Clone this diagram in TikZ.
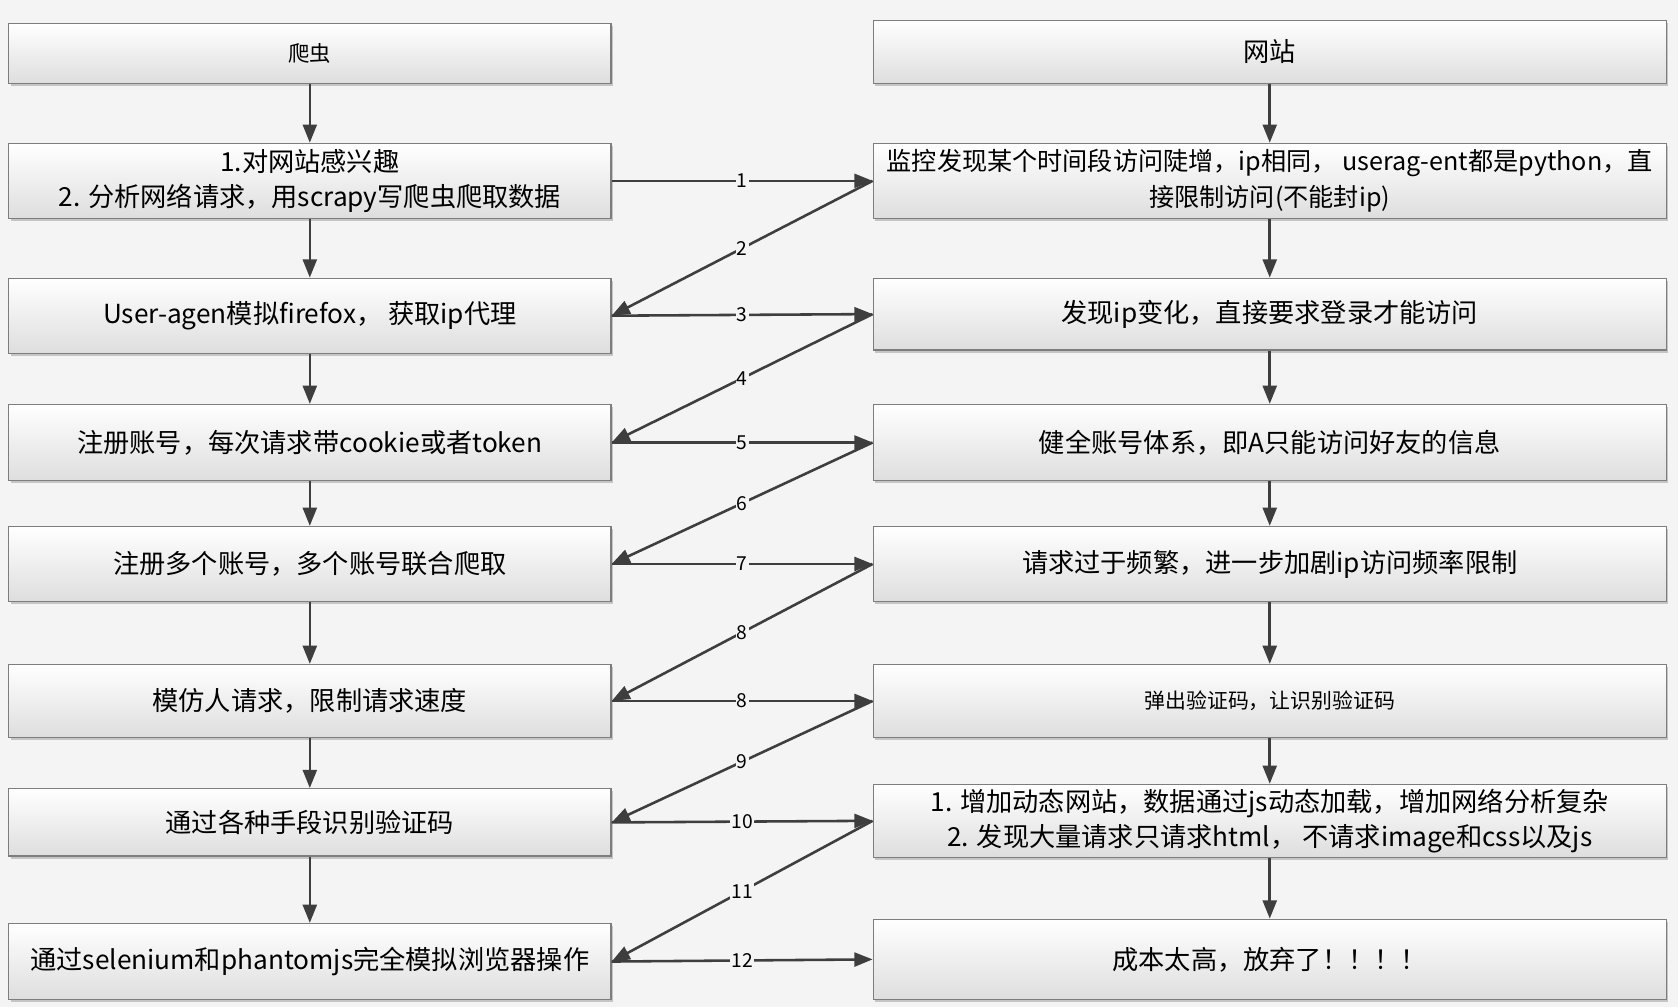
\documentclass[tikz,border=0pt]{standalone}
\usepackage{fontspec}
\setmainfont{Noto Sans CJK SC}
\usetikzlibrary{arrows.meta,shadows}
\definecolor{bgcol}{RGB}{244,244,244}
\definecolor{boxline}{RGB}{125,125,125}
\definecolor{arrowcol}{RGB}{62,62,62}
\tikzset{Lbox/.style={shape=rectangle,draw=boxline,line width=1.2pt,top color=white,bottom color=black!13,
  minimum width=563pt,inner sep=0pt,align=center,font=\fontsize{24.5}{33}\selectfont,
  drop shadow={shadow xshift=2pt,shadow yshift=-2.5pt,fill=black!35,opacity=.6}}}
\tikzset{Rbox/.style={Lbox,minimum width=741pt}}
\tikzset{flow/.style={-{Triangle[length=17pt,width=13pt]},draw=arrowcol,line width=2.4pt}}
\tikzset{num/.style={fill=bgcol,inner sep=1pt,font=\fontsize{18}{18}\selectfont}}
\begin{document}
\begin{tikzpicture}[x=1pt,y=-1pt]
\fill[bgcol] (0,0) rectangle (1568,941);
\useasboundingbox (0,0) rectangle (1568,941);

% crawler side
\node[Lbox,minimum height=56pt,font=\fontsize{20}{24}\selectfont] (L0) at (289.5,50) {爬虫};
\node[Lbox,minimum height=70pt] (L1) at (289.5,169) {1.对网站感兴趣\\2. 分析网络请求，用scrapy写爬虫爬取数据};
\node[Lbox,minimum height=70pt] (L2) at (289.5,295) {User-agen模拟firefox， 获取ip代理};
\node[Lbox,minimum height=71pt] (L3) at (289.5,413.5) {注册账号，每次请求带cookie或者token};
\node[Lbox,minimum height=70pt] (L4) at (289.5,527) {注册多个账号，多个账号联合爬取};
\node[Lbox,minimum height=68pt] (L5) at (289.5,655) {模仿人请求，限制请求速度};
\node[Lbox,minimum height=63pt] (L6) at (289.5,768.5) {通过各种手段识别验证码};
\node[Lbox,minimum height=71pt] (L7) at (289.5,898.5) {通过selenium和phantomjs完全模拟浏览器操作};

% website side
\node[Rbox,minimum height=59pt] (R0) at (1186.5,48.5) {网站};
\node[Rbox,minimum height=70pt,font=\fontsize{23.5}{33}\selectfont] (R1) at (1186.5,169) {监控发现某个时间段访问陡增，ip相同， userag-ent都是python，直\\接限制访问(不能封ip)};
\node[Rbox,minimum height=67pt] (R2) at (1186.5,293.5) {发现ip变化，直接要求登录才能访问};
\node[Rbox,minimum height=71pt] (R3) at (1186.5,413.5) {健全账号体系，即A只能访问好友的信息};
\node[Rbox,minimum height=70pt] (R4) at (1186.5,527) {请求过于频繁，进一步加剧ip访问频率限制};
\node[Rbox,minimum height=68pt,font=\fontsize{19.5}{24}\selectfont] (R5) at (1186.5,655) {弹出验证码，让识别验证码};
\node[Rbox,minimum height=68pt] (R6) at (1186.5,767) {1. 增加动态网站，数据通过js动态加载，增加网络分析复杂\\2. 发现大量请求只请求html， 不请求image和css以及js};
\node[Rbox,minimum height=75pt] (R7) at (1186.5,896.5) {成本太高，放弃了！！！！};

\foreach \i [count=\j] in {0,...,6} {
  \draw[flow] (L\i.south) -- (L\j.north);
  \draw[flow] (R\i.south) -- (R\j.north);
}

\path
(L1.east) edge [flow] node[num] {1} (R1.west)
(R1.west) edge [flow] node[num] {2} (L2.east)
(L2.east) edge [flow] node[num] {3} (R2.west)
(R2.west) edge [flow] node[num] {4} (L3.east)
(L3.east) edge [flow] node[num] {5} (R3.west)
(R3.west) edge [flow] node[num] {6} (L4.east)
(L4.east) edge [flow] node[num] {7} (R4.west)
(R4.west) edge [flow] node[num] {8} (L5.east)
(L5.east) edge [flow] node[num] {8} (R5.west)
(R5.west) edge [flow] node[num] {9} (L6.east)
(L6.east) edge [flow] node[num] {10} (R6.west)
(R6.west) edge [flow] node[num] {11} (L7.east)
(L7.east) edge [flow] node[num] {12} (R7.west);

\end{tikzpicture}
\end{document}
